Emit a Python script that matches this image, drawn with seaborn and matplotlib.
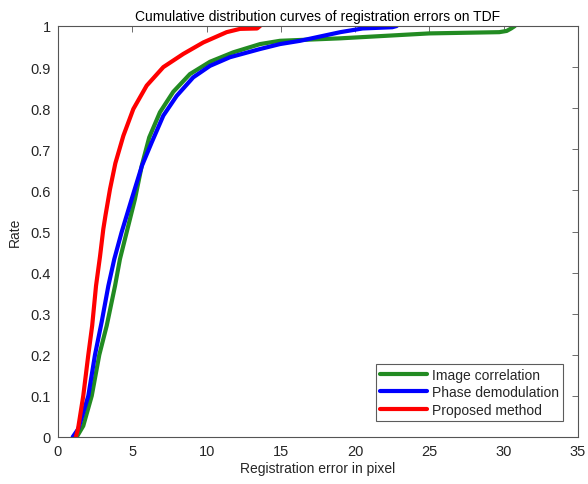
import matplotlib
matplotlib.use("Agg")
import matplotlib.pyplot as plt
import seaborn as sns
import pandas as pd

# ---- data ----
green_x = [1.26, 1.7, 2.27, 2.78, 3.28, 3.84, 4.17, 4.62, 5.18, 5.65, 6.14, 6.86, 7.76, 8.88, 10.23, 11.8, 13.6, 14.94, 16.3, 19.0, 25.0, 29.7, 30.2, 30.5, 30.75]
green_y = [0.0, 0.027, 0.1, 0.2, 0.271, 0.368, 0.433, 0.498, 0.579, 0.662, 0.729, 0.79, 0.84, 0.883, 0.913, 0.936, 0.956, 0.964, 0.966, 0.97, 0.982, 0.985, 0.988, 0.994, 1.0]

blue_x = [0.99, 1.37, 2.04, 2.49, 2.94, 3.39, 3.79, 4.28, 4.96, 5.65, 6.31, 7.09, 7.99, 9.1, 10.23, 11.57, 13.6, 14.94, 16.3, 19.0, 20.5, 22.5, 22.8]
blue_y = [0.0, 0.02, 0.1, 0.2, 0.28, 0.368, 0.433, 0.498, 0.579, 0.66, 0.717, 0.782, 0.83, 0.875, 0.903, 0.924, 0.944, 0.956, 0.964, 0.985, 0.994, 0.997, 1.0]

red_x = [1.2, 1.35, 1.7, 2.04, 2.3, 2.56, 2.83, 3.05, 3.2, 3.5, 3.86, 4.4, 5.07, 5.97, 7.09, 8.43, 9.78, 11.35, 12.25, 13.4, 13.6]
red_y = [0.0, 0.02, 0.1, 0.2, 0.271, 0.368, 0.44, 0.506, 0.54, 0.603, 0.666, 0.733, 0.798, 0.855, 0.9, 0.932, 0.96, 0.985, 0.993, 0.994, 1.0]

series_names = ["Image correlation", "Phase demodulation", "Proposed method"]
series_colors = ["#228B22", "#0000FF", "#FF0000"]

x_ticks = [0, 5, 10, 15, 20, 25, 30, 35]
y_ticks = [0, 0.1, 0.2, 0.3, 0.4, 0.5, 0.6, 0.7, 0.8, 0.9, 1.0]
y_tick_labels = ["0", "0.1", "0.2", "0.3", "0.4", "0.5", "0.6", "0.7", "0.8", "0.9", "1"]

sns.set_style("white")
plt.rcParams["font.family"] = ["Liberation Sans", "DejaVu Sans"]

fig = plt.figure(figsize=(5.88, 4.85), dpi=100)
ax = fig.add_axes([58/588, 47/485, 520/588, 411/485])

frames = []
for name, xs, ys in zip(series_names, [green_x, blue_x, red_x], [green_y, blue_y, red_y]):
    frames.append(pd.DataFrame({"err": xs, "rate": ys, "method": name}))
df = pd.concat(frames, ignore_index=True)

sns.lineplot(data=df, x="err", y="rate", hue="method", hue_order=series_names,
             palette=series_colors, sort=False, estimator=None, linewidth=3.0, ax=ax)
for ln in ax.get_lines():
    ln.set_solid_joinstyle("round")
    ln.set_solid_capstyle("round")

ax.set_xlim(0, 35)
ax.set_ylim(0, 1)
ax.set_xticks(x_ticks)
ax.set_xticklabels([str(t) for t in x_ticks])
ax.set_yticks(y_ticks)
ax.set_yticklabels(y_tick_labels)

gray = "#262626"
for s in ax.spines.values():
    s.set_visible(True)
    s.set_color("#555555")
    s.set_linewidth(0.8)
ax.tick_params(direction="in", length=4, width=0.6, top=True, right=True,
               labelsize=10.5, colors="#555555", labelcolor=gray, pad=5)

ax.set_xlabel("Registration error in pixel", fontsize=10, color=gray, labelpad=2)
ax.set_ylabel("Rate", fontsize=10, color=gray, labelpad=6)
ax.set_title("Cumulative distribution curves of registration errors on TDF", fontsize=10, color="black", pad=4)

leg = ax.legend(loc="lower right", bbox_to_anchor=(0.971, 0.039), fontsize=10, frameon=True,
                fancybox=False, edgecolor="#333333", handlelength=3.4, borderpad=0.3,
                labelspacing=0.25, handletextpad=0.35, borderaxespad=0)
leg.get_frame().set_linewidth(0.8)
for line in leg.get_lines():
    line.set_linewidth(3.0)

fig.savefig("out.png", dpi=100)
